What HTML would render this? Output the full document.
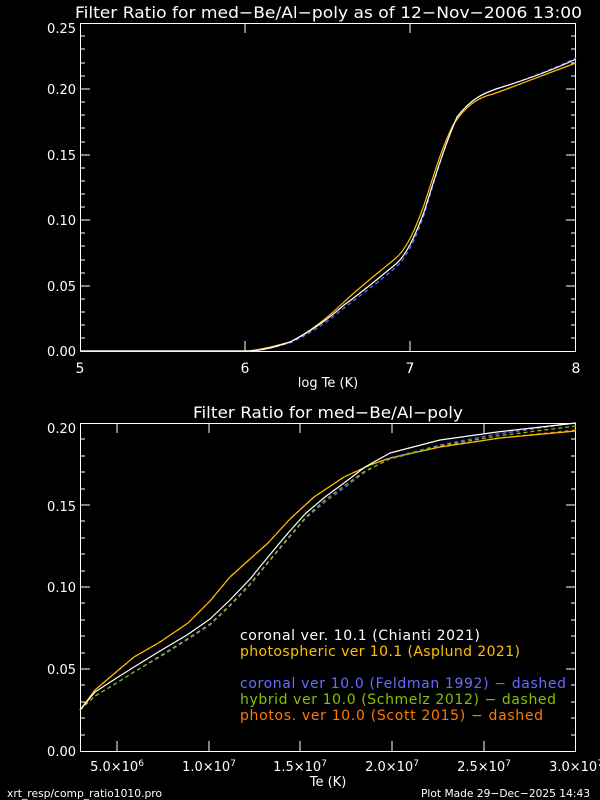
<!DOCTYPE html>
<html><head><style>
html,body{margin:0;padding:0;background:#000;}
svg{display:block;font-family:"DejaVu Sans","Liberation Sans",sans-serif;}
</style></head><body>
<svg width="600" height="800" viewBox="0 0 600 800" xmlns="http://www.w3.org/2000/svg">
<rect width="600" height="800" fill="#000"/>
<g fill="#fff">
<text x="75" y="18" font-size="16" textLength="507" lengthAdjust="spacingAndGlyphs">Filter Ratio for med−Be/Al−poly as of 12−Nov−2006 13:00</text>
<g font-size="14" text-anchor="middle">
<text x="80" y="373">5</text><text x="245" y="373">6</text><text x="410" y="373">7</text><text x="576" y="373">8</text>
</g>
<text x="328" y="387" text-anchor="middle" font-size="13">log Te (K)</text>
<g font-size="13" text-anchor="end">
<text x="76" y="33">0.25</text><text x="76" y="94">0.20</text><text x="76" y="160">0.15</text>
<text x="76" y="225">0.10</text><text x="76" y="291">0.05</text><text x="76" y="356">0.00</text>
</g>
<text x="193" y="418" font-size="16" textLength="270" lengthAdjust="spacingAndGlyphs">Filter Ratio for med−Be/Al−poly</text>
<g font-size="13" text-anchor="end">
<text x="76" y="433">0.20</text><text x="76" y="511">0.15</text><text x="76" y="592">0.10</text>
<text x="76" y="674">0.05</text><text x="76" y="756">0.00</text>
</g>
<g font-size="13" text-anchor="middle">
<text x="117" y="771">5.0×10<tspan dy="-5" font-size="9">6</tspan></text>
<text x="209" y="771">1.0×10<tspan dy="-5" font-size="9">7</tspan></text>
<text x="300" y="771">1.5×10<tspan dy="-5" font-size="9">7</tspan></text>
<text x="392" y="771">2.0×10<tspan dy="-5" font-size="9">7</tspan></text>
<text x="484" y="771">2.5×10<tspan dy="-5" font-size="9">7</tspan></text>
<text x="576" y="771">3.0×10<tspan dy="-5" font-size="9">7</tspan></text>
</g>
<text x="328" y="786" text-anchor="middle" font-size="13">Te (K)</text>
<text x="7" y="797" font-size="11" textLength="155" lengthAdjust="spacingAndGlyphs">xrt_resp/comp_ratio1010.pro</text>
<text x="421" y="797" font-size="11" textLength="169" lengthAdjust="spacingAndGlyphs">Plot Made 29−Dec−2025 14:43</text>
</g>
<g stroke="#fff" stroke-width="1" fill="none">
<rect x="80.5" y="23.5" width="495" height="328"/>
<rect x="80.5" y="423.5" width="495" height="328"/>
<path d="M245 351v-10M410 351v-10M245 23v10M410 23v10
M80 286h10M80 220h10M80 155h10M80 89h10M576 286h-10M576 220h-10M576 155h-10M576 89h-10
M80 338h5M80 325h5M80 312h5M80 299h5M80 273h5M80 260h5M80 246h5M80 233h5M80 207h5M80 194h5M80 181h5M80 168h5M80 142h5M80 128h5M80 115h5M80 102h5M80 76h5M80 63h5M80 49h5M80 36h5
M576 338h-5M576 325h-5M576 312h-5M576 299h-5M576 273h-5M576 260h-5M576 246h-5M576 233h-5M576 207h-5M576 194h-5M576 181h-5M576 168h-5M576 142h-5M576 128h-5M576 115h-5M576 102h-5M576 76h-5M576 63h-5M576 49h-5M576 36h-5
M117 751v-10M209 751v-10M300 751v-10M392 751v-10M484 751v-10M117 423v10M209 423v10M300 423v10M392 423v10M484 423v10
M80 669h10M80 587h10M80 505h10M576 669h-10M576 587h-10M576 505h-10
M80 735h5M80 718h5M80 702h5M80 685h5M80 653h5M80 636h5M80 620h5M80 603h5M80 571h5M80 554h5M80 538h5M80 521h5M80 489h5M80 472h5M80 456h5M80 439h5
M576 735h-5M576 718h-5M576 702h-5M576 685h-5M576 653h-5M576 636h-5M576 620h-5M576 603h-5M576 571h-5M576 554h-5M576 538h-5M576 521h-5M576 489h-5M576 472h-5M576 456h-5M576 439h-5"/>
</g>
<g fill="none" stroke-width="1.2" stroke-linejoin="round">
<path stroke="#ffc000" d="M80 351 L248 351 C264 349 275 346 290 342 C310 332 327 318 344 302 C361 286 379 272 396 258 C407 248 415 230 424 205 C434 175 440 152 453 125 C465 107 476 98 493 94 C516 86 551 72 576 63"/>
<path stroke="#6a6aff" stroke-dasharray="4,3" d="M80 351 L252 351 C266 350 278 346 290 343 C310 334 327 322 344 308 C365 292 381 280 396 267 C407 257 415 240 424 215 C434 182 443 150 457 117 C471 99 482 94 496 89 C522 81 551 70 576 58"/>
<path stroke="#fff" d="M80 351 L250 351 C266 350 278 346 290 342 C310 332 327 320 344 305 C365 290 381 276 396 264 C407 254 415 236 424 212 C434 180 443 150 457 117 C471 99 482 94 496 89 C522 81 551 71 576 59"/>
<polyline stroke="#ff7a00" stroke-dasharray="4,3" points="80,710 95,690 115,673 134,657 160,642 188,623 210,601 230,577 250,559 268,543 290,519 314,497 344,477 370,465 390,458 440,447 500,438 576,430"/>
<polyline stroke="#ffc000" points="80,710 95,690 115,673 134,657 160,642 188,623 210,601 230,577 250,559 268,543 290,519 314,497 344,477 370,465 390,458 440,447 500,438 576,431"/>
<polyline stroke="#6a6aff" stroke-dasharray="4,3" points="80,710 95,696 115,684 134,672 160,657 187,640 210,625 230,606 250,585 268,563 288,539 306,518 325,502 344,488 365,472 390,458 440,445 497,434 576,423"/>
<polyline stroke="#8ac000" stroke-dasharray="4,3" points="80,710 95,696 115,684 134,672 160,656 187,639 210,624 230,605 250,584 268,562 288,538 306,517 325,500 344,486 365,471 390,459 440,446 497,436 576,426"/>
<polyline stroke="#fff" points="80,710 95,692 115,679 134,667 160,651 187,635 210,619 230,600 250,579 268,557 288,533 306,513 325,497 344,483 365,467 390,453 440,440 497,432 576,423"/>
</g>
<g font-size="14" lengthAdjust="spacingAndGlyphs">
<text x="240" y="640" fill="#fff" textLength="240">coronal ver. 10.1 (Chianti 2021)</text>
<text x="240" y="656" fill="#ffc000" textLength="280">photospheric ver 10.1 (Asplund 2021)</text>
<text x="240" y="688" fill="#6a6aff" textLength="326">coronal ver 10.0 (Feldman 1992) − dashed</text>
<text x="240" y="704" fill="#8ac000" textLength="316">hybrid ver 10.0 (Schmelz 2012) − dashed</text>
<text x="240" y="720" fill="#ff7a00" textLength="303">photos. ver 10.0 (Scott 2015) − dashed</text>
</g>
</svg>
</body></html>
